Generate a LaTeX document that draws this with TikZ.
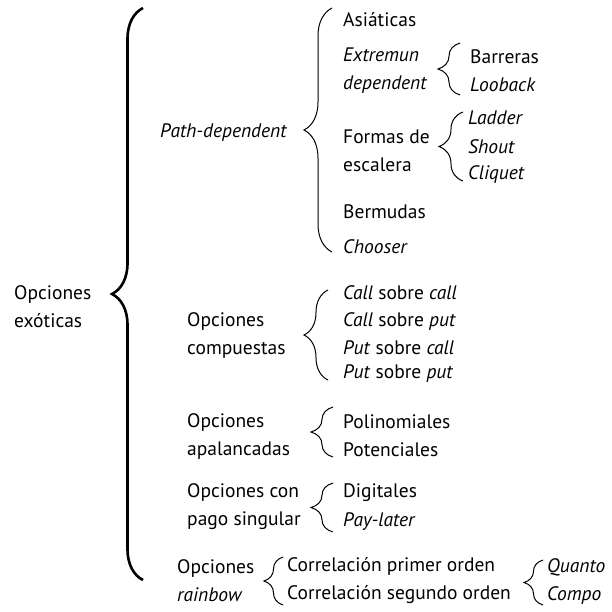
\documentclass[tikz,border=0pt]{standalone}
\usepackage{fontspec}
\setmainfont{PT Sans}
\usetikzlibrary{decorations.pathreplacing}
\tikzset{%
	txt/.style = {anchor = west, inner sep = 0pt, align = left, font = \fontsize{19.5}{28}\selectfont},
	brc/.style = {draw, line width = 1pt, decorate, decoration = {brace, amplitude = #1}},
	brc/.default = 22pt,
	bigbrc/.style = {brc = 31pt, line width = 2.6pt}
}
\begin{document}
\begin{tikzpicture}[x = 1pt, y = -1pt]
			\useasboundingbox (0,0) rectangle (612,611);
			% level 0
			\node [txt] (exo) at (14,307) {Opciones\\exóticas};
			% level 1
			\node [txt] (path) at (160,133) {\itshape Path-dependent};
			\node [txt] (comp) at (187,335) {Opciones\\compuestas};
			\node [txt] (apal) at (187,436) {Opciones\\apalancadas};
			\node [txt] (pago) at (187,507) {Opciones con\\pago singular};
			\node [txt] (rain) at (177,581) {Opciones\\\itshape rainbow};
			% level 2
			\node [txt] (asia) at (343,20) {Asiáticas};
			\node [txt] (extr) at (343,71) {\itshape Extremun\\\itshape dependent};
			\node [txt] (form) at (343,151) {Formas de\\escalera};
			\node [txt] (berm) at (343,212) {Bermudas};
			\node [txt] (choo) at (343,247) {\itshape Chooser};
			\node [txt] (cc) at (343,293) {\textit{Call} sobre \textit{call}};
			\node [txt] (cp) at (343,321) {\textit{Call} sobre \textit{put}};
			\node [txt] (pc) at (343,348) {\textit{Put} sobre \textit{call}};
			\node [txt] (pp) at (343,374) {\textit{Put} sobre \textit{put}};
			\node [txt] (poli) at (343,422) {Polinomiales};
			\node [txt] (pote) at (343,450) {Potenciales};
			\node [txt] (digi) at (343,493) {Digitales};
			\node [txt] (payl) at (343,522) {\itshape Pay-later};
			\node [txt] (corr) at (287,581) {Correlación primer orden\\Correlación segundo orden};
			% level 3
			\node [txt] (barr) at (470,57) {Barreras};
			\node [txt] (look) at (470,85) {\itshape Looback};
			\node [txt] (ladd) at (468,118) {\itshape Ladder};
			\node [txt] (shou) at (468,147) {\itshape Shout};
			\node [txt] (cliq) at (468,175) {\itshape Cliquet};
			\node [txt] (quan) at (547,581) {\itshape Quanto\\\itshape Compo};
			% brace ends
			\coordinate (b0t) at (143,8);    \coordinate (b0b) at (143,580);
			\coordinate (b1t) at (332,8);    \coordinate (b1b) at (332,252);
			\coordinate (b2t) at (328,290);  \coordinate (b2b) at (328,380);
			\coordinate (b3t) at (333,407);  \coordinate (b3b) at (333,457);
			\coordinate (b4t) at (333,483);  \coordinate (b4b) at (333,532);
			\coordinate (b5t) at (283,557);  \coordinate (b5b) at (283,605);
			\coordinate (b6t) at (460,43);   \coordinate (b6b) at (460,95);
			\coordinate (b7t) at (463,112);  \coordinate (b7b) at (463,181);
			\coordinate (b8t) at (543,560);  \coordinate (b8b) at (543,605);
			\path [bigbrc] (b0b) -- (b0t);
			\path [brc = 28pt] (b1b) -- (b1t);
			\path [brc = 24pt] (b2b) -- (b2t);
			\path [brc] (b3b) -- (b3t);
			\path [brc] (b4b) -- (b4t);
			\path [brc = 19pt] (b5b) -- (b5t);
			\path [brc] (b6b) -- (b6t);
			\path [brc = 24pt] (b7b) -- (b7t);
			\path [brc = 19pt] (b8b) -- (b8t);
			\end{tikzpicture}
\end{document}
